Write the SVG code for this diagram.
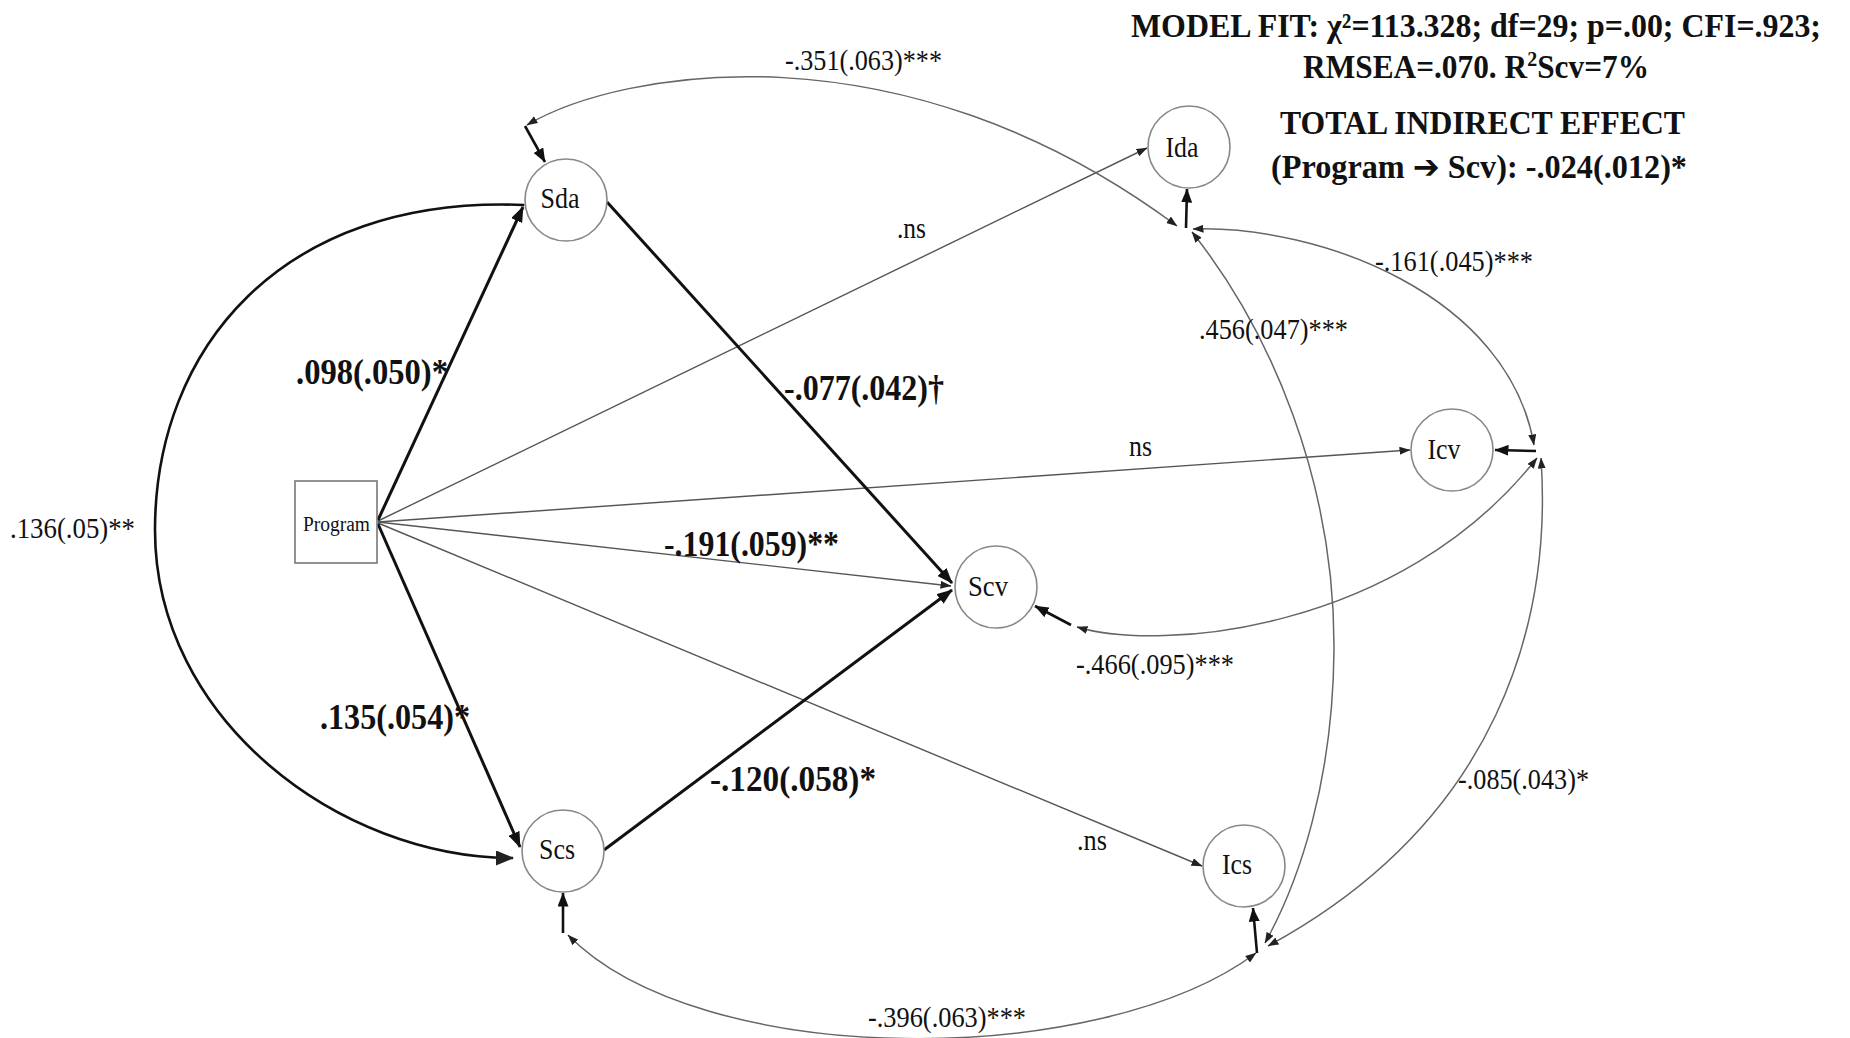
<svg xmlns="http://www.w3.org/2000/svg" width="1850" height="1038" viewBox="0 0 1850 1038">
  <style>
    text { font-family: "Liberation Serif", "Times New Roman", serif; fill: #111; }
    .lbl { font-size: 28.5px; }
    .blbl { font-size: 35px; font-weight: bold; }
    .ttl { font-size: 33px; font-weight: bold; }
    .node { fill: #fff; stroke: #888; stroke-width: 1.6; }
    .nlbl { font-size: 28.5px; text-anchor: middle; }
    .thick { fill: none; stroke: #111; stroke-width: 3; }
    .thin { fill: none; stroke: #555; stroke-width: 1.4; }
    .cov { fill: none; stroke: #666; stroke-width: 1.5; }
    .stem { fill: none; stroke: #111; stroke-width: 2.6; }
  </style>
  <defs>
    <marker id="arrThick" viewBox="0 0 16 12" refX="15" refY="6" markerWidth="16" markerHeight="12" markerUnits="userSpaceOnUse" orient="auto">
      <path d="M0,0 L16,6 L0,12 z" fill="#111"/>
    </marker>
    <marker id="arrBig" viewBox="0 0 18 15" refX="17" refY="7.5" markerWidth="18" markerHeight="15" markerUnits="userSpaceOnUse" orient="auto-start-reverse">
      <path d="M0,0 L18,7.5 L0,15 z" fill="#222"/>
    </marker>
    <marker id="arrThin" viewBox="0 0 11 8" refX="10.5" refY="4" markerWidth="11" markerHeight="8" markerUnits="userSpaceOnUse" orient="auto">
      <path d="M0,0 L11,4 L0,8 z" fill="#222"/>
    </marker>
    <marker id="arrCov" viewBox="0 0 11 8" refX="10.5" refY="4" markerWidth="11" markerHeight="8" markerUnits="userSpaceOnUse" orient="auto-start-reverse">
      <path d="M0,0 L11,4 L0,8 z" fill="#222"/>
    </marker>
    <marker id="arrStem" viewBox="0 0 14 11" refX="13.5" refY="5.5" markerWidth="14" markerHeight="11" markerUnits="userSpaceOnUse" orient="auto">
      <path d="M0,0 L14,5.5 L0,11 z" fill="#111"/>
    </marker>
  </defs>

  <!-- paths, covariances and error stems -->
  <g id="connectors">
    <!-- regression paths from Program -->
    <path class="thin" d="M378,521 L1147,148" marker-end="url(#arrThin)"/>
    <path class="thin" d="M378,522 L1410,450" marker-end="url(#arrThin)"/>
    <path class="thin" d="M378,522 L951,586" marker-end="url(#arrThin)"/>
    <path class="thin" d="M378,523 L1202,866" marker-end="url(#arrThin)"/>
    <path class="thick" d="M378,520 L523,207" marker-end="url(#arrThick)"/>
    <path class="thick" d="M378,524 L520,847" marker-end="url(#arrThick)"/>
    <!-- mediators to Scv -->
    <path class="thick" d="M607,202 L952,583" marker-end="url(#arrThick)"/>
    <path class="thick" d="M604,850 L952,590" marker-end="url(#arrThick)"/>
    <!-- Sda with Scs -->
    <path class="thick" style="stroke-width:2.6" d="M524,205 C280,195 155,350 155,530 C155,720 340,858 513,858" marker-start="url(#arrThin)" marker-end="url(#arrBig)"/>

    <!-- residual covariances -->
    <path class="cov" d="M527,125 C620,70 900,20 1177,226" marker-start="url(#arrCov)" marker-end="url(#arrCov)"/>
    <path class="cov" d="M1193,229 C1320,225 1508,295 1534,445" marker-start="url(#arrCov)" marker-end="url(#arrCov)"/>
    <path class="cov" d="M1192,232 C1270,330 1335,480 1334,650 C1333,780 1300,880 1265,943" marker-start="url(#arrCov)" marker-end="url(#arrCov)"/>
    <path class="cov" d="M1077,627 C1160,652 1400,632 1537,458" marker-start="url(#arrCov)" marker-end="url(#arrCov)"/>
    <path class="cov" d="M1541,458 C1552,620 1500,820 1268,946" marker-start="url(#arrCov)" marker-end="url(#arrCov)"/>
    <path class="cov" d="M568,935 C700,1070 1100,1070 1256,953" marker-start="url(#arrCov)" marker-end="url(#arrCov)"/>

    <!-- error stems into the latent variables -->
    <path class="stem" d="M525,126 L545,162" marker-end="url(#arrStem)"/>
    <path class="stem" d="M1186,228 L1187,189" marker-end="url(#arrStem)"/>
    <path class="stem" d="M1536,451 L1495,450" marker-end="url(#arrStem)"/>
    <path class="stem" d="M1071,625 L1035,606" marker-end="url(#arrStem)"/>
    <path class="stem" d="M563,933 L563,893" marker-end="url(#arrStem)"/>
    <path class="stem" d="M1257,953 L1253,908" marker-end="url(#arrStem)"/>
  </g>

  <!-- nodes -->
  <g id="program">
    <rect x="295" y="481" width="82" height="82" fill="#fff" stroke="#777" stroke-width="1.6"/>
    <text x="303" y="531" style="font-size:20px" textLength="67" lengthAdjust="spacingAndGlyphs">Program</text>
  </g>
  <g id="sda">
    <circle class="node" cx="566" cy="200" r="41"/>
    <text class="nlbl" x="560" y="208" textLength="39" lengthAdjust="spacingAndGlyphs">Sda</text>
  </g>
  <g id="ida">
    <circle class="node" cx="1189" cy="147" r="41"/>
    <text class="nlbl" x="1182" y="157" textLength="33" lengthAdjust="spacingAndGlyphs">Ida</text>
  </g>
  <g id="scv">
    <circle class="node" cx="996" cy="587" r="41"/>
    <text class="nlbl" x="988" y="596" textLength="40" lengthAdjust="spacingAndGlyphs">Scv</text>
  </g>
  <g id="icv">
    <circle class="node" cx="1452" cy="450" r="41"/>
    <text class="nlbl" x="1444" y="459" textLength="33" lengthAdjust="spacingAndGlyphs">Icv</text>
  </g>
  <g id="scs">
    <circle class="node" cx="563" cy="851" r="41"/>
    <text class="nlbl" x="557" y="859" textLength="36" lengthAdjust="spacingAndGlyphs">Scs</text>
  </g>
  <g id="ics">
    <circle class="node" cx="1244" cy="866" r="41"/>
    <text class="nlbl" x="1237" y="874" textLength="30" lengthAdjust="spacingAndGlyphs">Ics</text>
  </g>

  <!-- coefficient labels -->
  <g id="labels">
    <text class="lbl" x="785" y="70" textLength="157" lengthAdjust="spacingAndGlyphs">-.351(.063)***</text>
    <text class="lbl" x="897" y="238" textLength="29" lengthAdjust="spacingAndGlyphs">.ns</text>
    <text class="lbl" x="1375" y="271" textLength="158" lengthAdjust="spacingAndGlyphs">-.161(.045)***</text>
    <text class="lbl" x="1199" y="339" textLength="149" lengthAdjust="spacingAndGlyphs">.456(.047)***</text>
    <text class="blbl" x="296" y="384" textLength="152" lengthAdjust="spacingAndGlyphs">.098(.050)*</text>
    <text class="blbl" x="784" y="400" textLength="160" lengthAdjust="spacingAndGlyphs">-.077(.042)†</text>
    <text class="lbl" x="1129" y="456" textLength="23" lengthAdjust="spacingAndGlyphs">ns</text>
    <text class="lbl" x="10" y="538" textLength="125" lengthAdjust="spacingAndGlyphs">.136(.05)**</text>
    <text class="blbl" x="664" y="556" textLength="175" lengthAdjust="spacingAndGlyphs">-.191(.059)**</text>
    <text class="lbl" x="1076" y="674" textLength="158" lengthAdjust="spacingAndGlyphs">-.466(.095)***</text>
    <text class="blbl" x="320" y="729" textLength="150" lengthAdjust="spacingAndGlyphs">.135(.054)*</text>
    <text class="blbl" x="710" y="791" textLength="166" lengthAdjust="spacingAndGlyphs">-.120(.058)*</text>
    <text class="lbl" x="1458" y="789" textLength="131" lengthAdjust="spacingAndGlyphs">-.085(.043)*</text>
    <text class="lbl" x="1077" y="850" textLength="30" lengthAdjust="spacingAndGlyphs">.ns</text>
    <text class="lbl" x="868" y="1027" textLength="158" lengthAdjust="spacingAndGlyphs">-.396(.063)***</text>
  </g>

  <!-- fit statistics and indirect effect -->
  <g id="summary">
    <text class="ttl" x="1131" y="37" textLength="690" lengthAdjust="spacingAndGlyphs">MODEL FIT: χ²=113.328; df=29; p=.00; CFI=.923;</text>
    <text class="ttl" transform="translate(1303,78) scale(0.95,1)">RMSEA=.070. R<tspan style="font-size:21px" dy="-12">2</tspan><tspan dy="12">Scv=7%</tspan></text>
    <text class="ttl" x="1280" y="134" textLength="405" lengthAdjust="spacingAndGlyphs">TOTAL INDIRECT EFFECT</text>
    <text class="ttl" x="1271" y="178" textLength="416" lengthAdjust="spacingAndGlyphs">(Program <tspan style="font-family:'DejaVu Sans',sans-serif">➔</tspan> Scv): -.024(.012)*</text>
  </g>
</svg>
